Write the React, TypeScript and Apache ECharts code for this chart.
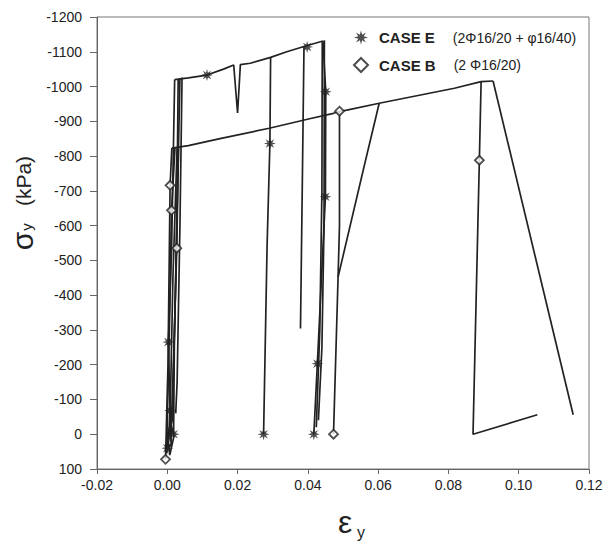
import React, { useEffect, useRef } from "react";
import * as echarts from "echarts";

// ---------- axis settings ----------
const X_MIN = -0.02;
const X_MAX = 0.12;
const X_STEP = 0.02;
const Y_MIN = -1200;
const Y_MAX = 100;
const Y_STEP = 100;

// ---------- CASE E (2Φ16/20 + φ16/40) : strain εy, stress σy (kPa) ----------
const caseE_nearZero: number[][] = [
  [0.0000, 40], [0.0012, -60], [0.0004, 15], [-0.0003, 55], [0.0010, -30],
  [0.0019, 5], [0.0007, 60], [0.0000, 0], [0.0015, -45], [-0.0002, 25],
  [0.0011, 35], [0.0008, -68], [0.0003, -265],
];
const caseE_rise: number[][] = [
  [0.0003, -265], [0.0012, -520], [0.0017, -800], [0.0021, -1020],
];
const caseE_reload1: number[][] = [
  [0.0031, -1022], [0.0027, -620], [0.0020, -250], [0.0018, 0],
];
const caseE_reload2: number[][] = [
  [0.0042, -1026], [0.0036, -600], [0.0028, -150], [0.0024, -60],
];
const caseE_reload3: number[][] = [
  [0.0036, -1024], [0.0031, -780], [0.0023, -400], [0.0014, -40],
];
const caseE_envelope: number[][] = [
  [0.0021, -1020], [0.0060, -1025], [0.0113, -1033], [0.0160, -1050],
  [0.0189, -1062], [0.0200, -924], [0.0208, -1063], [0.0236, -1067],
  [0.0294, -1084], [0.0340, -1100], [0.0389, -1115], [0.0443, -1131],
];
const caseE_unload1: number[][] = [
  [0.0294, -1084], [0.0292, -836], [0.0284, -543], [0.0274, 0],
];
const caseE_unload2: number[][] = [
  [0.0389, -1115], [0.0384, -700], [0.0379, -304],
];
const caseE_unload3: number[][] = [
  [0.0443, -1131], [0.0451, -985], [0.0450, -683], [0.0427, -203], [0.0417, 0],
];
const caseE_unload4: number[][] = [
  [0.0447, -1133], [0.0446, -600], [0.0440, -250], [0.0430, -40],
];
const caseE_unload5: number[][] = [
  [0.0441, -1128], [0.0440, -700], [0.0434, -300], [0.0424, -20],
];
const caseE_markers: number[][] = [
  [0.0000, 40], [0.0008, -68], [0.0018, 0], [0.0003, -265], [0.0113, -1033],
  [0.0292, -836], [0.0274, 0], [0.0398, -1114], [0.0451, -985],
  [0.0450, -683], [0.0427, -203], [0.0417, 0],
];

// ---------- CASE B (2 Φ16/20) ----------
const caseB_rise: number[][] = [
  [-0.0005, 72], [0.0002, -200], [0.0008, -716], [0.0013, -823],
];
const caseB_return1: number[][] = [
  [0.0032, -826], [0.0027, -535], [0.0018, -220], [0.0010, 20],
];
const caseB_return2: number[][] = [
  [0.0022, -824], [0.0012, -644], [0.0006, -300], [-0.0002, 50],
];
const caseB_return3: number[][] = [
  [0.0028, -825], [0.0024, -700], [0.0016, -450], [0.0009, -100], [0.0003, 30],
];
const caseB_envelope: number[][] = [
  [0.0013, -823], [0.0060, -830], [0.0150, -850], [0.0290, -880],
  [0.0408, -908], [0.0473, -923], [0.0490, -929], [0.0511, -932],
  [0.0603, -952], [0.0817, -995], [0.0893, -1014], [0.0927, -1016],
];
const caseB_unload1: number[][] = [
  [0.0490, -929], [0.0490, -600], [0.0486, -452], [0.0473, 0],
];
const caseB_slant: number[][] = [
  [0.0603, -952], [0.0560, -770], [0.0486, -452],
];
const caseB_unload2: number[][] = [
  [0.0893, -1014], [0.0888, -788], [0.0870, 0], [0.1053, -56],
];
const caseB_unload3: number[][] = [
  [0.0927, -1016], [0.1155, -56],
];
const caseB_markers: number[][] = [
  [-0.0005, 72], [0.0008, -716], [0.0012, -644], [0.0027, -535],
  [0.0490, -929], [0.0473, 0], [0.0888, -788],
];

const CASE_E_NAME = "CASE E";
const CASE_B_NAME = "CASE B";
const CASE_E_NOTE = "(2Φ16/20 + φ16/40)";
const CASE_B_NOTE = "(2 Φ16/20)";

const caseE_segments = [
  caseE_nearZero, caseE_rise, caseE_reload1, caseE_reload2, caseE_reload3,
  caseE_envelope, caseE_unload1, caseE_unload2, caseE_unload3, caseE_unload4,
  caseE_unload5,
];
const caseB_segments = [
  caseB_rise, caseB_return1, caseB_return2, caseB_return3, caseB_envelope,
  caseB_unload1, caseB_slant, caseB_unload2, caseB_unload3,
];

// asterisk symbol (8 spokes)
const asteriskPath = (() => {
  const pts: string[] = [];
  for (let i = 0; i < 16; i++) {
    const a = (i * Math.PI) / 8 - Math.PI / 2;
    const r = i % 2 === 0 ? 10 : 4.2;
    pts.push(`${(r * Math.cos(a)).toFixed(2)} ${(r * Math.sin(a)).toFixed(2)}`);
  }
  return "path://M" + pts.join(" L") + " Z";
})();

const FONT = "'Liberation Sans', Arial, sans-serif";
const LINE_COLOR = "#222";

export default function App() {
  const ref = useRef<HTMLDivElement>(null);
  useEffect(() => {
    if (!ref.current) return;
    const chart = echarts.init(ref.current, null, { renderer: "svg" });

    const lineSeries = (name: string, segs: number[][][]) =>
      segs.map((d) => ({
        type: "line",
        name,
        data: d,
        showSymbol: false,
        symbol: "none",
        lineStyle: { color: LINE_COLOR, width: 1.7 },
        z: 2,
        silent: true,
      }));

    chart.setOption({
      animation: false,
      backgroundColor: "#fff",
      grid: {
        left: 97,
        right: 24,
        top: 17,
        bottom: 74,
        show: true,
        borderColor: "#777",
        borderWidth: 1,
      },
      legend: {
        orient: "vertical",
        left: 353,
        top: 30,
        padding: 0,
        itemWidth: 14,
        itemHeight: 14,
        itemGap: 12,
        selectedMode: false,
        data: [
          { name: CASE_E_NAME, icon: asteriskPath },
          { name: CASE_B_NAME, icon: "diamond" },
        ],
        formatter: (name: string) =>
          `{n|${name}}{p|${name === CASE_E_NAME ? CASE_E_NOTE : CASE_B_NOTE}}`,
        textStyle: {
          fontFamily: FONT,
          color: "#222",
          rich: {
            n: { fontSize: 15, fontWeight: "bold", fontFamily: FONT, color: "#222", padding: [0, 0, 0, 6] },
            p: { fontSize: 14, fontFamily: FONT, color: "#222", padding: [0, 0, 0, 18] },
          },
        },
      },
      xAxis: {
        type: "value",
        min: X_MIN,
        max: X_MAX,
        interval: X_STEP,
        axisLine: { show: true, onZero: false, lineStyle: { color: "#666", width: 1 } },
        axisTick: { show: true, inside: false, length: 5, lineStyle: { color: "#666" } },
        splitLine: { show: false },
        axisLabel: {
          fontSize: 14,
          fontFamily: FONT,
          color: "#222",
          margin: 9,
          formatter: (v: number) => (Math.abs(v) < 1e-9 ? "0.00" : v.toFixed(2)),
        },
      },
      yAxis: {
        type: "value",
        inverse: true,
        min: Y_MIN,
        max: Y_MAX,
        interval: Y_STEP,
        axisLine: { show: true, onZero: false, lineStyle: { color: "#666", width: 1 } },
        axisTick: { show: true, inside: false, length: 7, lineStyle: { color: "#666" } },
        splitLine: { show: false },
        axisLabel: {
          fontSize: 14,
          fontFamily: FONT,
          color: "#222",
          margin: 15,
          formatter: (v: number) => String(Math.round(v)),
        },
      },
      graphic: [
        {
          type: "text",
          x: 22,
          y: 241,
          rotation: Math.PI / 2,
          style: { text: "σ", fontSize: 30, fontFamily: FONT, fill: "#222", align: "center", verticalAlign: "middle" },
        },
        {
          type: "text",
          x: 26,
          y: 227,
          rotation: Math.PI / 2,
          style: { text: "y", fontSize: 15, fontFamily: FONT, fill: "#222", align: "center", verticalAlign: "middle" },
        },
        {
          type: "text",
          x: 23,
          y: 181,
          rotation: Math.PI / 2,
          style: { text: "(kPa)", fontSize: 21, fontFamily: FONT, fill: "#222", align: "center", verticalAlign: "middle" },
        },
        {
          type: "text",
          x: 345,
          y: 522,
          style: { text: "ε", fontSize: 32, fontFamily: FONT, fill: "#222", align: "center", verticalAlign: "middle" },
        },
        {
          type: "text",
          x: 361,
          y: 532,
          style: { text: "y", fontSize: 16, fontFamily: FONT, fill: "#222", align: "center", verticalAlign: "middle" },
        },
      ],
      series: [
        {
          type: "scatter",
          name: CASE_E_NAME,
          data: caseE_markers,
          symbol: asteriskPath,
          symbolSize: 12,
          itemStyle: { color: LINE_COLOR },
          z: 5,
        },
        {
          type: "scatter",
          name: CASE_B_NAME,
          data: caseB_markers,
          symbol: "diamond",
          symbolSize: 9,
          itemStyle: { color: "#fff", borderColor: LINE_COLOR, borderWidth: 1.8 },
          z: 5,
        },
        ...lineSeries(CASE_E_NAME, caseE_segments),
        ...lineSeries(CASE_B_NAME, caseB_segments),
      ],
    });
    return () => chart.dispose();
  }, []);

  return (
    <div
      ref={ref}
      style={{ position: "fixed", left: 0, top: 0, width: 613, height: 543, background: "#fff" }}
    />
  );
}
